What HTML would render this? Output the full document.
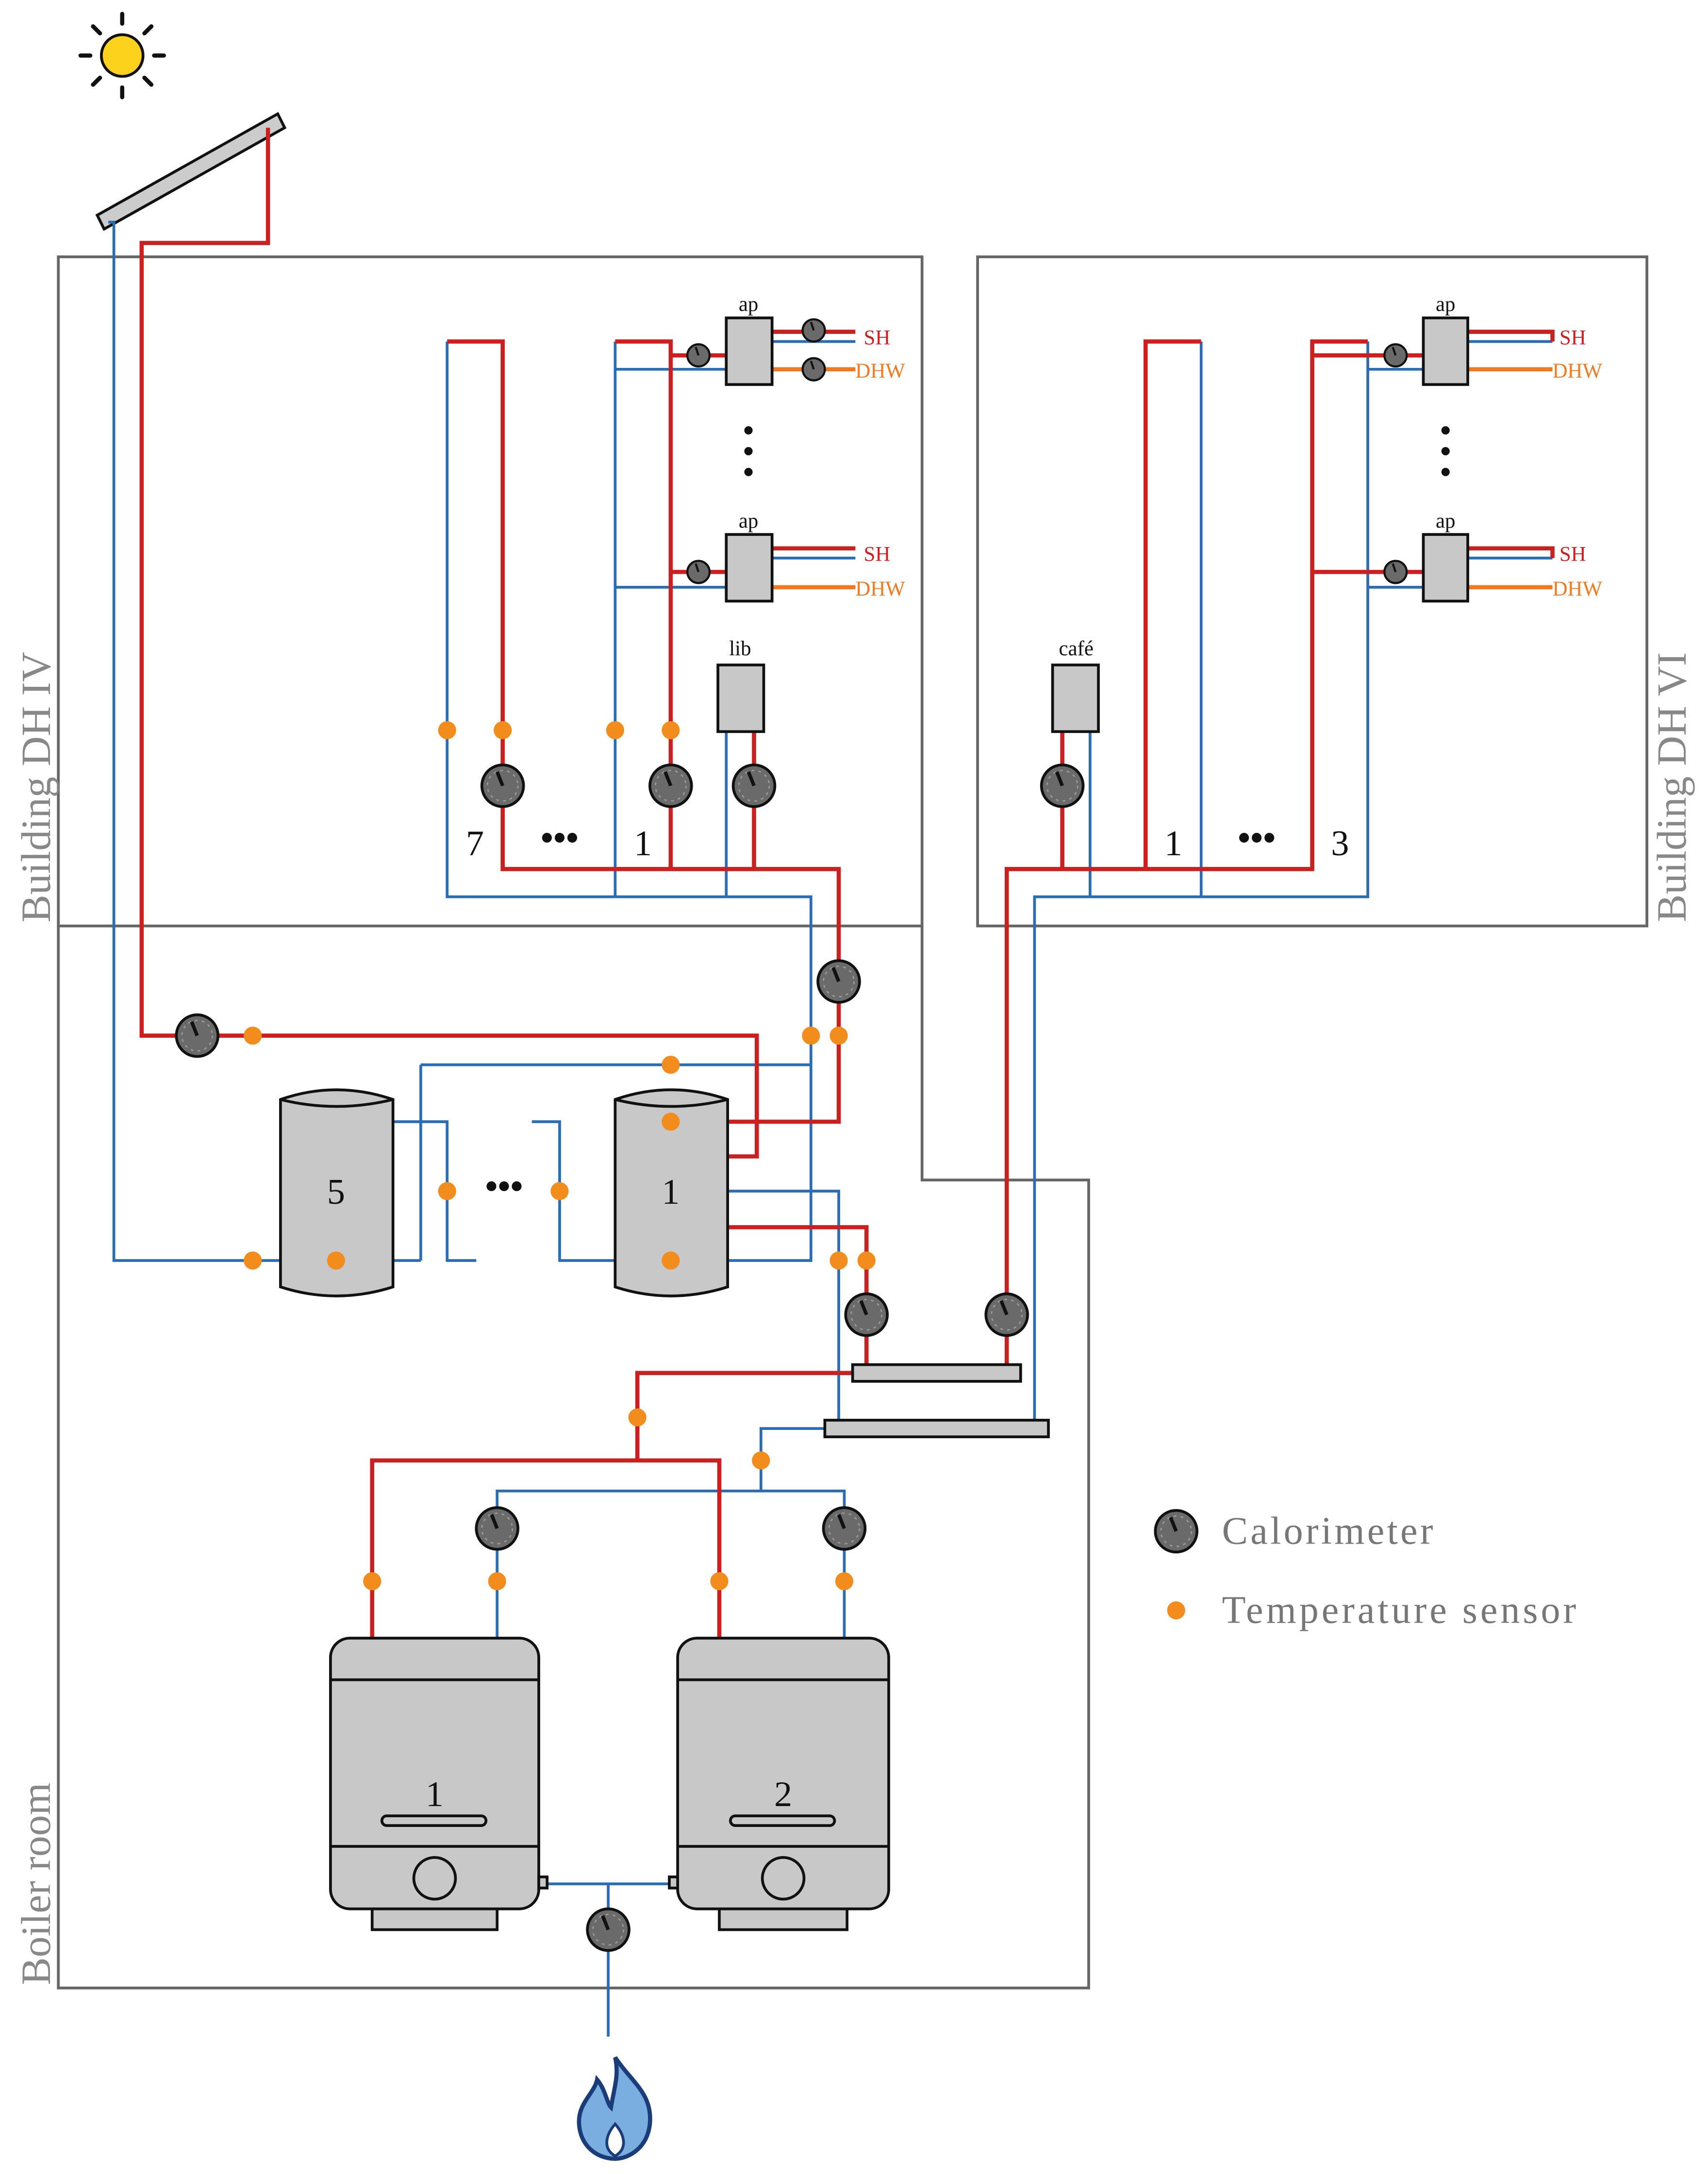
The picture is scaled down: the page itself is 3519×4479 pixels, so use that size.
<!DOCTYPE html>
<html><head><meta charset="utf-8"><style>html,body{margin:0;padding:0;background:#fff}svg{display:block}text{font-family:"Liberation Serif",serif}</style></head>
<body>
<svg width="3519" height="4479" viewBox="0 0 1230 1566" preserveAspectRatio="none" xmlns="http://www.w3.org/2000/svg">
<defs>
<g id="cal"><circle r="15" fill="#6a6a6a" stroke="#111" stroke-width="2"/><circle r="11" fill="none" stroke="#999" stroke-width="1" stroke-dasharray="2 3"/><line x1="0" y1="0" x2="-4" y2="-10" stroke="#111" stroke-width="2.5"/></g>
<g id="calS"><circle r="8" fill="#6a6a6a" stroke="#111" stroke-width="1.5"/><line x1="0" y1="0" x2="-2" y2="-6" stroke="#111" stroke-width="1.5"/></g>
<circle id="ts" r="6.5" fill="#f28c1c"/>
</defs>
<circle cx="88" cy="40" r="15" fill="#fcd21c" stroke="#111" stroke-width="2"/>
<g stroke="#111" stroke-width="3" stroke-linecap="round">
<line x1="88" y1="10" x2="88" y2="17"/><line x1="88" y1="63" x2="88" y2="70"/><line x1="58" y1="40" x2="65" y2="40"/><line x1="111" y1="40" x2="118" y2="40"/>
<line x1="67" y1="19" x2="72" y2="24"/><line x1="104" y1="56" x2="109" y2="61"/><line x1="67" y1="61" x2="72" y2="56"/><line x1="104" y1="24" x2="109" y2="19"/></g>
<polygon points="70,155 200,82 205,92 75,165" fill="#ccc" stroke="#111" stroke-width="2"/>
<g fill="none" stroke="#666" stroke-width="2">
<rect x="42" y="185" width="622" height="482"/>
<rect x="704" y="185" width="482" height="482"/>
<polyline points="42,667 42,1432 784,1432 784,850 664,850 664,667"/>
</g>
<g fill="#888" font-size="30">
<text transform="translate(36,567) rotate(-90)" text-anchor="middle">Building DH IV</text>
<text transform="translate(36,1357) rotate(-90)" text-anchor="middle">Boiler room</text>
<text transform="translate(1214,567) rotate(-90)" text-anchor="middle">Building DH VI</text>
</g>
<g fill="none" stroke="#2a6db5" stroke-width="2">
<polyline points="78,160 82,160 82,908 202,908"/>
<polyline points="322,246 322,646 584,646 584,908 524,908"/>
<polyline points="443,246 443,646"/>
<line x1="443" y1="266" x2="523" y2="266"/><line x1="443" y1="423" x2="523" y2="423"/>
<line x1="523" y1="527" x2="523" y2="646"/>
<polyline points="303,908 283,908"/><polyline points="303,767 584,767"/><line x1="303" y1="767" x2="303" y2="908"/>
<polyline points="283,808 322,808 322,908 343,908"/>
<polyline points="383,808 403,808 403,908 443,908"/>
<polyline points="524,858 604,858 604,1023"/>
<polyline points="745,1023 745,646 985,646 985,246"/>
<line x1="785" y1="527" x2="785" y2="646"/>
<line x1="865" y1="246" x2="865" y2="646"/>
<line x1="985" y1="266" x2="1025" y2="266"/><line x1="985" y1="423" x2="1025" y2="423"/>
<polyline points="594,1029 548,1029 548,1074"/>
<polyline points="358,1180 358,1074 608,1074 608,1180"/>
<polyline points="391,1357 485,1357"/><line x1="438" y1="1357" x2="438" y2="1467"/>
<line x1="556" y1="246" x2="616" y2="246"/><line x1="556" y1="402" x2="616" y2="402"/>
<line x1="1057" y1="246" x2="1118" y2="246"/><line x1="1057" y1="402" x2="1118" y2="402"/>
</g>
<g fill="none" stroke="#cc1f1f" stroke-width="3">
<polyline points="193,92 193,175 102,175 102,746 545,746 545,833 525,833"/>
<polyline points="322,246 362,246 362,626 604,626 604,808 525,808"/>
<polyline points="443,246 483,246 483,626"/>
<line x1="483" y1="256" x2="523" y2="256"/><line x1="483" y1="412" x2="523" y2="412"/>
<line x1="543" y1="527" x2="543" y2="626"/>
<polyline points="524,884 624,884 624,985"/>
<polyline points="725,985 725,626 945,626 945,246 985,246"/>
<polyline points="825,626 825,246 865,246"/>
<line x1="765" y1="527" x2="765" y2="626"/>
<line x1="945" y1="256" x2="1025" y2="256"/><line x1="945" y1="412" x2="1025" y2="412"/>
<polyline points="614,989 459,989 459,1052"/>
<polyline points="268,1180 268,1052 518,1052 518,1180"/>
<polyline points="556,239 616,239"/><polyline points="556,395 616,395"/>
<polyline points="1057,239 1118,239 1118,246"/><polyline points="1057,395 1118,395 1118,402"/>
</g>
<g stroke="#f07a20" stroke-width="3">
<line x1="556" y1="266" x2="616" y2="266"/><line x1="556" y1="423" x2="616" y2="423"/>
<line x1="1057" y1="266" x2="1118" y2="266"/><line x1="1057" y1="423" x2="1118" y2="423"/>
</g>
<g fill="#c8c8c8" stroke="#111" stroke-width="2">
<rect x="523" y="229" width="33" height="48"/><rect x="523" y="385" width="33" height="48"/>
<rect x="1025" y="229" width="32" height="48"/><rect x="1025" y="385" width="32" height="48"/>
<rect x="517" y="479" width="33" height="48"/><rect x="758" y="479" width="33" height="48"/>
<rect x="614" y="983" width="121" height="12"/><rect x="594" y="1023" width="161" height="12"/>
<path d="M202,792 Q242,778 283,792 L283,927 Q242,940 202,927 Z"/><path d="M202,792 Q242,802 283,792"/>
<path d="M443,792 Q483,778 524,792 L524,927 Q483,940 443,927 Z"/><path d="M443,792 Q483,802 524,792"/>
<rect x="268" y="1370" width="90" height="20"/><rect x="518" y="1370" width="92" height="20"/>
<rect x="238" y="1180" width="150" height="195" rx="14"/><rect x="488" y="1180" width="152" height="195" rx="14"/>
<rect x="388" y="1352" width="6" height="8"/><rect x="482" y="1352" width="6" height="8"/>
</g>
<g stroke="#111" stroke-width="2" fill="#c8c8c8">
<line x1="238" y1="1210" x2="388" y2="1210"/><line x1="238" y1="1330" x2="388" y2="1330"/>
<line x1="488" y1="1210" x2="640" y2="1210"/><line x1="488" y1="1330" x2="640" y2="1330"/>
<rect x="275" y="1308" width="75" height="7" rx="3.5"/><rect x="526" y="1308" width="75" height="7" rx="3.5"/>
<circle cx="313" cy="1353" r="15"/><circle cx="564" cy="1353" r="15"/>
</g>
<path d="M443,1482 C455,1500 470,1508 468,1530 C466,1548 452,1555 443,1555 C430,1555 418,1546 417,1530 C416,1515 428,1508 430,1498 C436,1505 437,1515 440,1518 C442,1505 446,1495 443,1482 Z" fill="#7aaee0" stroke="#1a3d7a" stroke-width="3"/>
<path d="M443,1530 C450,1538 452,1548 443,1553 C434,1548 436,1538 443,1530 Z" fill="#fff" stroke="#1a3d7a" stroke-width="2"/>
<use href="#cal" x="142" y="746"/><use href="#cal" x="362" y="566"/><use href="#cal" x="483" y="566"/><use href="#cal" x="543" y="566"/>
<use href="#cal" x="604" y="707"/><use href="#cal" x="624" y="947"/><use href="#cal" x="725" y="947"/><use href="#cal" x="765" y="566"/>
<use href="#cal" x="358" y="1101"/><use href="#cal" x="608" y="1101"/><use href="#cal" x="438" y="1390"/><use href="#cal" x="847" y="1103"/>
<use href="#calS" x="503" y="256"/><use href="#calS" x="503" y="412"/><use href="#calS" x="586" y="238"/><use href="#calS" x="586" y="266"/>
<use href="#calS" x="1005" y="256"/><use href="#calS" x="1005" y="412"/>
<use href="#ts" x="322" y="526"/><use href="#ts" x="362" y="526"/><use href="#ts" x="443" y="526"/><use href="#ts" x="483" y="526"/>
<use href="#ts" x="584" y="746"/><use href="#ts" x="604" y="746"/><use href="#ts" x="182" y="746"/><use href="#ts" x="182" y="908"/><use href="#ts" x="242" y="908"/>
<use href="#ts" x="483" y="767"/><use href="#ts" x="483" y="808"/><use href="#ts" x="483" y="908"/><use href="#ts" x="322" y="858"/><use href="#ts" x="403" y="858"/>
<use href="#ts" x="604" y="908"/><use href="#ts" x="624" y="908"/><use href="#ts" x="459" y="1021"/><use href="#ts" x="548" y="1052"/>
<use href="#ts" x="268" y="1139"/><use href="#ts" x="358" y="1139"/><use href="#ts" x="518" y="1139"/><use href="#ts" x="608" y="1139"/>
<use href="#ts" x="847" y="1160"/>
<g fill="#111"><circle cx="539" cy="310" r="3"/><circle cx="539" cy="325" r="3"/><circle cx="539" cy="340" r="3"/>
<circle cx="1041" cy="310" r="3"/><circle cx="1041" cy="325" r="3"/><circle cx="1041" cy="340" r="3"/></g>
<g font-size="15" fill="#111" text-anchor="middle">
<text x="539" y="224">ap</text><text x="539" y="380">ap</text><text x="1041" y="224">ap</text><text x="1041" y="380">ap</text>
<text x="533" y="472">lib</text><text x="775" y="472">café</text></g>
<g font-size="15"><text x="622" y="248" fill="#cc1f1f">SH</text><text x="622" y="404" fill="#cc1f1f">SH</text>
<text x="1123" y="248" fill="#cc1f1f">SH</text><text x="1123" y="404" fill="#cc1f1f">SH</text>
<text x="616" y="272" fill="#f07a20">DHW</text><text x="616" y="429" fill="#f07a20">DHW</text>
<text x="1118" y="272" fill="#f07a20">DHW</text><text x="1118" y="429" fill="#f07a20">DHW</text></g>
<g font-size="26" fill="#111" text-anchor="middle">
<text x="342" y="616">7</text><text x="403" y="612" font-weight="bold">•••</text><text x="463" y="616">1</text>
<text x="845" y="616">1</text><text x="905" y="612" font-weight="bold">•••</text><text x="965" y="616">3</text>
<text x="242" y="867">5</text><text x="363" y="863" font-weight="bold">•••</text><text x="483" y="867">1</text>
<text x="313" y="1301">1</text><text x="564" y="1301">2</text></g>
<g font-size="28" fill="#777"><text x="880" y="1112" textLength="152">Calorimeter</text><text x="880" y="1169" textLength="255">Temperature sensor</text></g>
</svg>
</body></html>
